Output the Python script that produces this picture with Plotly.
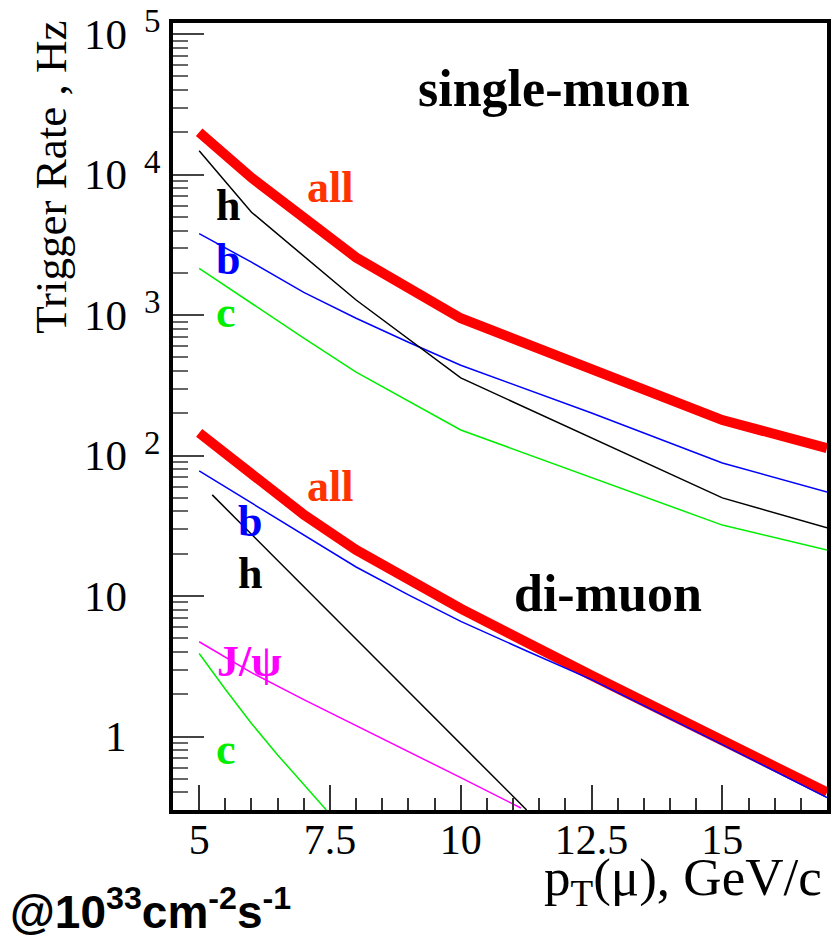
import math
import plotly.graph_objects as go

# ---------------- data ----------------
# single-muon trigger rates (Hz) vs pT (GeV/c)
s_all_x = [5, 6, 8, 10, 15, 17]
s_all_y = [2.0e4, 9.5e3, 2.57e3, 950, 179, 113]
s_h_x = [5, 6, 8, 10, 15, 17]
s_h_y = [1.48e4, 5.4e3, 1.28e3, 357, 50, 30.6]
s_b_x = [5, 6, 7, 8, 9, 10, 12.5, 15, 17]
s_b_y = [3.8e3, 2.38e3, 1.45e3, 950, 641, 440, 201, 88.6, 55]
s_c_x = [5, 6, 7, 8, 10, 15, 17]
s_c_y = [2154, 1216, 685, 393, 152, 32, 21.3]

# di-muon trigger rates (Hz) vs pT (GeV/c)
d_all_x = [5, 6, 7, 8, 9, 10, 12.5, 15, 17]
d_all_y = [145, 73, 38, 21.3, 13.1, 8.13, 2.72, 0.93, 0.40]
d_b_x = [5, 6, 7, 8, 9, 10, 11.25, 12.5, 15, 17]
d_b_y = [77.7, 46, 27.3, 16.1, 10.2, 6.6, 4.08, 2.54, 0.877, 0.368]
d_h_x = [5.25, 11.26]
d_h_y = [52.5, 0.30]
d_jpsi_x = [5, 6, 7, 8, 9, 10, 11.15]
d_jpsi_y = [4.73, 2.85, 1.83, 1.20, 0.78, 0.51, 0.31]
d_c_x = [5, 5.5, 6, 6.5, 7, 7.43]
d_c_y = [3.9, 2.17, 1.24, 0.74, 0.455, 0.30]

# axis ticks / labels
x_tickvals = [5, 7.5, 10, 12.5, 15]
x_ticktext = ["5", "7.5", "10", "12.5", "15"]
y_tickvals = [1, 10, 100, 1e3, 1e4, 1e5]
y_tick_main = ["1", "10", "10", "10", "10", "10"]
y_tick_exp = ["", "", "2", "3", "4", "5"]

# curve labels: text, colour, x (GeV/c), y (Hz)
label_text = ["all", "h", "b", "c", "all", "b", "h", "J/ψ", "c"]
label_color = ["#ff3300", "#000000", "#0000ff", "#00ee00", "#ff3300",
               "#0000ff", "#000000", "#ff00ff", "#00ee00"]
label_x = [7.51, 5.55, 5.55, 5.51, 7.51, 5.97, 5.97, 5.97, 5.51]
label_y = [8110, 6040, 2495, 1050, 59.8, 33.7, 14.4, 3.41, 0.81]

title_text = ["single-muon", "di-muon"]
title_x = [11.78, 12.82]
title_y = [41000, 10.4]

RED, BLK, BLU, GRN, MAG = "#ff0000", "#000000", "#0000ff", "#00ee00", "#ff00ff"
SERIF = "Liberation Serif"

fig = go.Figure()

def add(x, y, color, width):
    fig.add_trace(go.Scatter(x=x, y=y, mode="lines",
                             line=dict(color=color, width=width),
                             showlegend=False, hoverinfo="skip"))

add(s_all_x, s_all_y, RED, 10)
add(d_all_x, d_all_y, RED, 10)
add(s_c_x, s_c_y, GRN, 1.5)
add(s_b_x, s_b_y, BLU, 1.5)
add(s_h_x, s_h_y, BLK, 1.5)
add(d_c_x, d_c_y, GRN, 1.5)
add(d_jpsi_x, d_jpsi_y, MAG, 1.5)
add(d_h_x, d_h_y, BLK, 1.5)
add(d_b_x, d_b_y, BLU, 1.5)

ann = []
for t, c, x, y in zip(label_text, label_color, label_x, label_y):
    ann.append(dict(x=x, y=math.log10(y), xref="x", yref="y", text=t,
                    showarrow=False, xanchor="center", yanchor="middle",
                    font=dict(family=SERIF, size=44, color=c, weight="bold")))
for t, x, y in zip(title_text, title_x, title_y):
    ann.append(dict(x=x, y=math.log10(y), xref="x", yref="y", text=t,
                    showarrow=False, xanchor="center", yanchor="middle",
                    font=dict(family=SERIF, size=52, color="black", weight="bold")))

# y tick labels (10 with raised exponent)
for v, m, e in zip(y_tickvals, y_tick_main, y_tick_exp):
    ann.append(dict(x=0, y=math.log10(v), xref="paper", yref="y", text=m,
                    showarrow=False, xanchor="right", yanchor="middle", xshift=-44,
                    font=dict(family=SERIF, size=43, color="black")))
    if e:
        ann.append(dict(x=0, y=math.log10(v), xref="paper", yref="y", text=e,
                        showarrow=False, xanchor="center", yanchor="middle",
                        xshift=-20.5, yshift=13,
                        font=dict(family=SERIF, size=33, color="black")))

# axis titles
ann.append(dict(x=-0.186, y=0.8037, xref="paper", yref="paper",
                text="Trigger Rate , Hz", textangle=-90, showarrow=False,
                xanchor="center", yanchor="middle",
                font=dict(family=SERIF, size=45, color="black")))
ann.append(dict(x=0.9954, y=-0.0905, xref="paper", yref="paper",
                text="p<sub>T</sub>(μ), GeV/c", showarrow=False,
                xanchor="right", yanchor="middle",
                font=dict(family=SERIF, size=53, color="black")))
ann.append(dict(x=-0.252, y=-0.1255, xref="paper", yref="paper",
                text="@10<sup>33</sup>cm<sup>-2</sup>s<sup>-1</sup>", showarrow=False,
                xanchor="left", yanchor="middle",
                font=dict(family="Liberation Sans", size=46, color="black",
                          weight="bold")))

minor_y = [d * 10 ** k for k in range(-1, 5) for d in range(2, 10)]
minor_y = [v for v in minor_y if 0.3 <= v <= 1.2e5]

fig.update_layout(
    width=834, height=937,
    margin=dict(l=173, r=3, t=23, b=127),
    paper_bgcolor="white", plot_bgcolor="white",
    annotations=ann,
    xaxis=dict(range=[4.5, 17], showgrid=False, zeroline=False,
               showline=True, linecolor="black", linewidth=3.5, mirror=True,
               ticks="inside", ticklen=25, tickwidth=1.5, tickcolor="#333",
               tickmode="array", tickvals=x_tickvals, ticktext=x_ticktext,
               tickfont=dict(family=SERIF, size=42, color="black"),
               ticklabelstandoff=-10,
               minor=dict(ticks="inside", ticklen=12, tickwidth=1.5,
                          tickcolor="#333", tick0=4.5, dtick=0.5, showgrid=False)),
    yaxis=dict(type="log", range=[math.log10(0.3), math.log10(1.2e5)],
               showgrid=False, zeroline=False,
               showline=True, linecolor="black", linewidth=3.5, mirror=True,
               ticks="inside", ticklen=31, tickwidth=1.5, tickcolor="#444",
               tickmode="array", tickvals=y_tickvals, showticklabels=False,
               minor=dict(ticks="inside", ticklen=15, tickwidth=1.5,
                          tickcolor="#666", tickmode="array", tickvals=minor_y,
                          showgrid=False)),
)

fig.write_html("out.html")
